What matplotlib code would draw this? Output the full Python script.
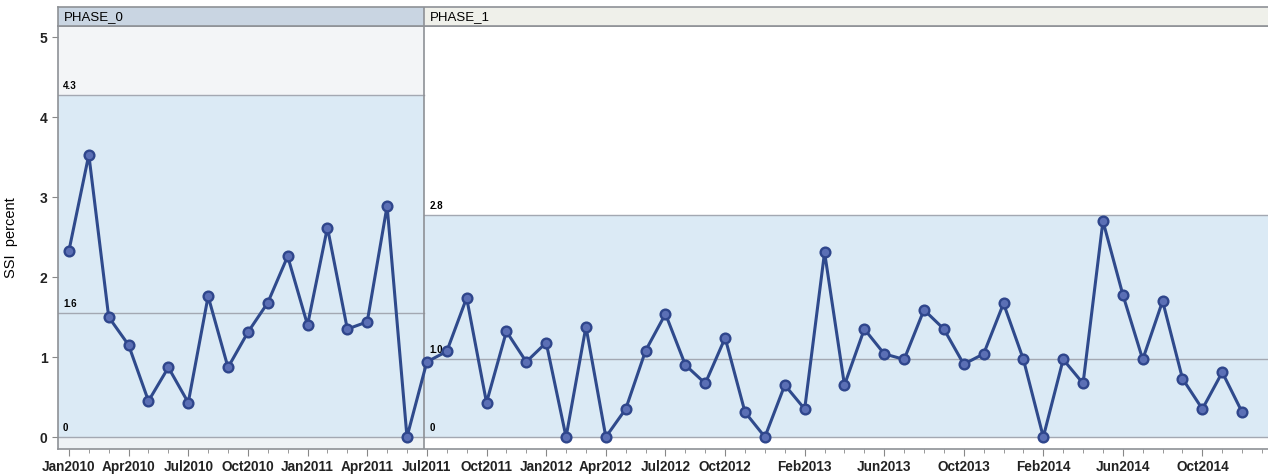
import numpy as np
import matplotlib
matplotlib.use('Agg')
import matplotlib.pyplot as plt

plt.rcParams['font.family'] = ['Liberation Sans', 'DejaVu Sans']

# monthly SSI percent, Jan2010 - Jun2011 (phase 0) and Jul2011 - Dec2014 (phase 1)
phase0 = [2.33, 3.53, 1.50, 1.15, 0.45, 0.87, 0.43, 1.76, 0.87, 1.31, 1.68, 2.26,
          1.40, 2.62, 1.35, 1.44, 2.89, 0.00]
phase1 = [0.94, 1.07, 1.74, 0.43, 1.32, 0.94,
          1.18, 0.00, 1.38, 0.00, 0.35, 1.08, 1.54, 0.90, 0.67, 1.24, 0.31, 0.00,
          0.65, 0.35, 2.31, 0.65, 1.35, 1.04, 0.97, 1.59, 1.35, 0.91, 1.04, 1.67,
          0.97, 0.00, 0.97, 0.67, 2.70, 1.78, 0.97, 1.70, 0.73, 0.35, 0.81, 0.31]

phase_names = ['PHASE_0', 'PHASE_1']
centre = [1.55, 0.97]
centre_text = ['1.6', '1.0']
ucl = [4.28, 2.78]
ucl_text = ['4.3', '2.8']
lcl = [0.0, 0.0]
lcl_text = ['0', '0']

tick_months = [0, 3, 6, 9, 12, 15, 18, 21, 24, 27, 30, 33, 37, 41, 45, 49, 53, 57]
tick_labels = ['Jan2010', 'Apr2010', 'Jul2010', 'Oct2010', 'Jan2011', 'Apr2011',
               'Jul2011', 'Oct2011', 'Jan2012', 'Apr2012', 'Jul2012', 'Oct2012',
               'Feb2013', 'Jun2013', 'Oct2013', 'Feb2014', 'Jun2014', 'Oct2014']

y = np.array(phase0 + phase1)
x = np.arange(len(y))
split = len(phase0) - 0.15

xmin, xmax = -0.55, 60.3
ymin, ymax = -0.15, 5.14
bounds = [(xmin, split), (split, xmax)]

fig = plt.figure(figsize=(12.68, 4.76), dpi=100)
ax = fig.add_axes([58 / 1268, 27 / 476, 1 - 58 / 1268, 423 / 476])
hx = fig.add_axes([58 / 1268, 450 / 476, 1 - 58 / 1268, 19 / 476])

band_col = '#dbeaf5'
above_col = ['#f3f5f7', '#ffffff']
below_col = ['#eef2f5', '#ffffff']
head_col = ['#c9d5e2', '#eff0ea']
lim_col = '#a3a8b2'

for i, (a, b) in enumerate(bounds):
    ax.fill_between([a, b], lcl[i], ucl[i], color=band_col, lw=0, zorder=0)
    ax.fill_between([a, b], ucl[i], ymax, color=above_col[i], lw=0, zorder=0)
    ax.fill_between([a, b], ymin, lcl[i], color=below_col[i], lw=0, zorder=0)
    for v in (centre[i], ucl[i], lcl[i]):
        ax.plot([a, b], [v, v], color=lim_col, lw=1.0, zorder=1)
    tx = a + 0.25 if i == 0 else a + 0.3
    ax.text(tx, ucl[i] + 0.05, ucl_text[i], fontsize=7, fontweight='bold', va='bottom')
    ax.text(tx, centre[i] + 0.05, centre_text[i], fontsize=7, fontweight='bold', va='bottom')
    ax.text(tx, lcl[i] + 0.05, lcl_text[i], fontsize=7, fontweight='bold', va='bottom')
    hx.axvspan(a, b, color=head_col[i], lw=0)
    hx.text(a + 0.3, 0.45, phase_names[i], fontsize=9.5, va='center')

ax.axvline(split, color='#8e9196', lw=1.2, zorder=2)
hx.axvline(split, color='#8e9196', lw=1.2)

ax.plot(x, y, '-', color='#2f4a8c', lw=2.2, zorder=3)
ax.plot(x, y, 'o', ms=7, mfc='#5b6fb5', mec='#2f468c', mew=1.7, zorder=4)

ax.set_xlim(xmin, xmax)
ax.set_ylim(ymin, ymax)
ax.set_xticks(tick_months)
ax.set_xticklabels(tick_labels, fontsize=9.8, fontweight='bold', color='#222222')
ax.set_xticks(np.arange(0, 61), minor=True)
ax.set_yticks([0, 1, 2, 3, 4, 5])
ax.set_yticklabels(['0', '1', '2', '3', '4', '5'], fontsize=10, fontweight='bold',
                   color='#222222')
ax.tick_params(axis='x', which='major', length=5, color='#888888', pad=3)
ax.tick_params(axis='x', which='minor', length=3, color='#888888')
ax.tick_params(axis='y', length=4, color='#888888')
ax.set_ylabel('SSI  percent', fontsize=10.5, labelpad=16)

ax.spines['right'].set_visible(False)
for s in ('left', 'bottom', 'top'):
    ax.spines[s].set_color('#8e9196')
    ax.spines[s].set_linewidth(1.2)

hx.set_xlim(xmin, xmax)
hx.set_ylim(0, 1)
hx.set_xticks([])
hx.set_yticks([])
hx.spines['right'].set_visible(False)
for s in ('left', 'bottom', 'top'):
    hx.spines[s].set_color('#8e9196')
    hx.spines[s].set_linewidth(1.2)

fig.savefig('out.png', dpi=100)
